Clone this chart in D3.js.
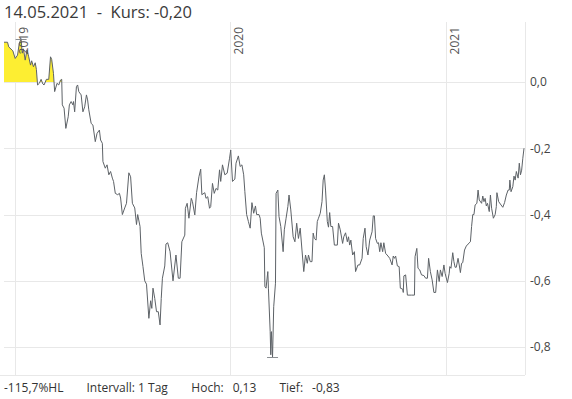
<!DOCTYPE html>
<html>
<head>
<meta charset="utf-8">
<script src="https://cdn.jsdelivr.net/npm/d3@7"></script>
<style>
  body { margin: 0; background: #fff; }
  text { font-family: "Open Sans", sans-serif; white-space: pre; }
</style>
</head>
<body>
<svg id="chart" width="572" height="399"></svg>
<script>
// daily closes
const dates = [
  "2018-12-13","2018-12-19","2018-12-21","2018-12-28","2019-01-01","2019-01-05","2019-01-08","2019-01-11","2019-01-13","2019-01-15",
  "2019-01-18","2019-01-21","2019-01-24","2019-01-27","2019-01-29","2019-02-01","2019-02-04","2019-02-06","2019-02-08","2019-02-11",
  "2019-02-14","2019-02-17","2019-02-19","2019-02-23","2019-02-27","2019-03-02","2019-03-04","2019-03-07","2019-03-09","2019-03-13",
  "2019-03-16","2019-03-19","2019-03-21","2019-03-22","2019-03-25","2019-03-28","2019-04-01","2019-04-03","2019-04-06","2019-04-09",
  "2019-04-10","2019-04-12","2019-04-15","2019-04-17","2019-04-19","2019-04-23","2019-04-26","2019-04-29","2019-05-02","2019-05-04",
  "2019-05-06","2019-05-10","2019-05-13","2019-05-17","2019-05-20","2019-05-24","2019-05-26","2019-05-29","2019-05-30","2019-06-03",
  "2019-06-06","2019-06-09","2019-06-12","2019-06-15","2019-06-17","2019-06-20","2019-06-24","2019-06-27","2019-06-29","2019-07-02",
  "2019-07-06","2019-07-09","2019-07-13","2019-07-16","2019-07-19","2019-07-23","2019-07-26","2019-07-28","2019-08-01","2019-08-03",
  "2019-08-06","2019-08-09","2019-08-12","2019-08-16","2019-08-19","2019-08-21","2019-08-23","2019-08-26","2019-08-29","2019-09-01",
  "2019-09-04","2019-09-06","2019-09-08","2019-09-12","2019-09-14","2019-09-17","2019-09-21","2019-09-26","2019-10-01","2019-10-05",
  "2019-10-08","2019-10-11","2019-10-16","2019-10-17","2019-10-20","2019-10-23","2019-10-27","2019-10-29","2019-11-02","2019-11-05",
  "2019-11-09","2019-11-12","2019-11-14","2019-11-19","2019-11-21","2019-11-24","2019-11-27","2019-11-29","2019-12-02","2019-12-05",
  "2019-12-08","2019-12-11","2019-12-14","2019-12-16","2019-12-19","2019-12-23","2019-12-27","2019-12-31","2020-01-02","2020-01-05",
  "2020-01-09","2020-01-11","2020-01-15","2020-01-18","2020-01-21","2020-01-24","2020-01-26","2020-01-29","2020-02-01","2020-02-04",
  "2020-02-07","2020-02-10","2020-02-13","2020-02-15","2020-02-19","2020-02-21","2020-02-23","2020-02-28","2020-02-29","2020-03-02",
  "2020-03-05","2020-03-06","2020-03-09","2020-03-10","2020-03-11","2020-03-13","2020-03-15","2020-03-18","2020-03-19","2020-03-22",
  "2020-03-24","2020-03-27","2020-03-31","2020-04-02","2020-04-05","2020-04-08","2020-04-10","2020-04-13","2020-04-17","2020-04-20",
  "2020-04-23","2020-04-26","2020-04-29","2020-05-02","2020-05-05","2020-05-08","2020-05-11","2020-05-13","2020-05-16","2020-05-19",
  "2020-05-21","2020-05-23","2020-05-26","2020-05-28","2020-05-30","2020-06-02","2020-06-05","2020-06-07","2020-06-09","2020-06-11",
  "2020-06-14","2020-06-16","2020-06-18","2020-06-20","2020-06-23","2020-06-26","2020-07-01","2020-07-03","2020-07-06","2020-07-10",
  "2020-07-12","2020-07-15","2020-07-18","2020-07-20","2020-07-22","2020-07-24","2020-07-27","2020-07-30","2020-08-01","2020-08-05",
  "2020-08-08","2020-08-12","2020-08-14","2020-08-17","2020-08-19","2020-08-22","2020-08-25","2020-08-29","2020-08-31","2020-09-02",
  "2020-09-04","2020-09-07","2020-09-09","2020-09-11","2020-09-13","2020-09-16","2020-09-18","2020-09-21","2020-09-25","2020-09-28",
  "2020-10-02","2020-10-04","2020-10-06","2020-10-08","2020-10-11","2020-10-14","2020-10-16","2020-10-20","2020-10-21","2020-10-22",
  "2020-10-25","2020-10-28","2020-11-04","2020-11-09","2020-11-10","2020-11-13","2020-11-15","2020-11-18","2020-11-21","2020-11-25",
  "2020-11-28","2020-12-01","2020-12-03","2020-12-06","2020-12-09","2020-12-12","2020-12-15","2020-12-18","2020-12-21","2020-12-23",
  "2020-12-26","2020-12-29","2020-12-31","2021-01-04","2021-01-07","2021-01-08","2021-01-10","2021-01-13","2021-01-15","2021-01-17",
  "2021-01-19","2021-01-22","2021-01-24","2021-01-26","2021-01-28","2021-01-30","2021-02-02","2021-02-05","2021-02-08","2021-02-12",
  "2021-02-14","2021-02-16","2021-02-18","2021-02-20","2021-02-23","2021-02-25","2021-02-27","2021-03-03","2021-03-05","2021-03-07",
  "2021-03-09","2021-03-11","2021-03-13","2021-03-16","2021-03-18","2021-03-20","2021-03-23","2021-03-26","2021-03-28","2021-03-29",
  "2021-04-01","2021-04-05","2021-04-08","2021-04-11","2021-04-14","2021-04-17","2021-04-19","2021-04-20","2021-04-22","2021-04-25",
  "2021-04-27","2021-04-29","2021-05-01","2021-05-04","2021-05-06","2021-05-08","2021-05-10","2021-05-12","2021-05-14"
];
const values = [
  0.12,0.12,0.106,0.094,0.071,0.081,0.117,0.13,0.087,0.10,
  0.066,0.097,0.076,0.051,0.064,0.046,0.058,0.038,-0.009,-0.004,
  0.008,-0.006,-0.009,0.008,0.008,0.076,0.068,0.026,-0.029,-0.004,
  -0.009,0.006,0.008,-0.069,-0.079,-0.14,-0.105,-0.069,-0.059,-0.069,
  -0.059,-0.09,-0.014,-0.009,-0.029,-0.039,-0.09,-0.075,-0.039,-0.054,
  -0.084,-0.125,-0.13,-0.18,-0.155,-0.145,-0.175,-0.185,-0.24,-0.26,
  -0.25,-0.28,-0.27,-0.29,-0.30,-0.336,-0.34,-0.336,-0.35,-0.40,
  -0.38,-0.366,-0.274,-0.286,-0.366,-0.38,-0.43,-0.40,-0.436,-0.517,
  -0.557,-0.60,-0.61,-0.713,-0.66,-0.683,-0.622,-0.653,-0.693,-0.693,
  -0.733,-0.653,-0.592,-0.555,-0.489,-0.485,-0.512,-0.60,-0.522,-0.592,
  -0.592,-0.482,-0.462,-0.381,-0.366,-0.411,-0.351,-0.361,-0.401,-0.334,
  -0.286,-0.263,-0.34,-0.334,-0.351,-0.346,-0.381,-0.376,-0.306,-0.336,
  -0.321,-0.326,-0.265,-0.30,-0.25,-0.28,-0.275,-0.23,-0.205,-0.30,
  -0.293,-0.245,-0.223,-0.255,-0.25,-0.28,-0.331,-0.40,-0.421,-0.441,
  -0.364,-0.396,-0.374,-0.40,-0.40,-0.411,-0.456,-0.50,-0.617,-0.622,
  -0.572,-0.622,-0.753,-0.823,-0.753,-0.83,-0.678,-0.607,-0.336,-0.326,
  -0.406,-0.436,-0.512,-0.446,-0.411,-0.376,-0.341,-0.386,-0.467,-0.482,
  -0.426,-0.472,-0.441,-0.507,-0.572,-0.522,-0.547,-0.522,-0.542,-0.542,
  -0.456,-0.472,-0.477,-0.421,-0.411,-0.396,-0.361,-0.296,-0.28,-0.326,
  -0.421,-0.438,-0.394,-0.436,-0.436,-0.492,-0.492,-0.426,-0.446,-0.487,
  -0.467,-0.455,-0.482,-0.467,-0.492,-0.477,-0.522,-0.512,-0.572,-0.552,
  -0.552,-0.532,-0.472,-0.441,-0.497,-0.522,-0.477,-0.452,-0.404,-0.404,
  -0.472,-0.487,-0.485,-0.512,-0.485,-0.512,-0.485,-0.517,-0.525,-0.532,
  -0.552,-0.525,-0.532,-0.525,-0.555,-0.557,-0.622,-0.625,-0.635,-0.585,
  -0.582,-0.643,-0.643,-0.643,-0.527,-0.502,-0.562,-0.567,-0.582,-0.584,
  -0.592,-0.592,-0.532,-0.572,-0.597,-0.635,-0.635,-0.567,-0.602,-0.567,
  -0.587,-0.552,-0.577,-0.605,-0.577,-0.557,-0.562,-0.515,-0.542,-0.559,
  -0.559,-0.532,-0.552,-0.575,-0.547,-0.545,-0.507,-0.495,-0.489,-0.482,
  -0.436,-0.40,-0.40,-0.371,-0.366,-0.326,-0.356,-0.366,-0.344,-0.361,
  -0.351,-0.374,-0.366,-0.391,-0.341,-0.381,-0.411,-0.40,-0.376,-0.334,
  -0.361,-0.371,-0.378,-0.364,-0.341,-0.326,-0.326,-0.296,-0.331,-0.316,
  -0.284,-0.296,-0.27,-0.29,-0.245,-0.28,-0.266,-0.23,-0.20
];
const yTicks = [0.0, -0.2, -0.4, -0.6, -0.8];
const yearTicks = ["2019-01-01", "2020-01-01", "2021-01-01"];
const hlText = "-115,7%HL";
const intervalText = "Intervall: 1 Tag";

const width = 572, height = 399;
const margin = { top: 22, right: 47, bottom: 24, left: 4 };
const svg = d3.select("#chart");

const parse = d3.timeParse("%Y-%m-%d");
const data = dates.map((d, i) => ({ date: parse(d), value: values[i] }));

// german number format, plain hyphen as minus
const de = d3.formatLocale({ decimal: ",", thousands: ".", grouping: [3], currency: ["", " €"], minus: "-" });
const fmt1 = de.format(".1f");
const fmt2 = de.format(".2f");

const x = d3.scaleTime()
  .domain(d3.extent(data, d => d.date))
  .range([margin.left, width - margin.right - 1]);
const y = d3.scaleLinear()
  .domain([-0.884, 0.181])
  .range([height - margin.bottom, margin.top]);

const x0 = margin.left, x1 = width - margin.right;
const yTop = margin.top, yBot = height - margin.bottom;

// grid
const grid = svg.append("g").attr("stroke", "#e8e8e8").attr("stroke-width", 1).attr("shape-rendering", "crispEdges");
grid.selectAll("line.h").data(yTicks).join("line")
  .attr("class", "h")
  .attr("x1", x0).attr("x2", x1)
  .attr("y1", d => Math.round(y(d)) + 0.5).attr("y2", d => Math.round(y(d)) + 0.5);
grid.selectAll("line.v").data(yearTicks).join("line")
  .attr("class", "v")
  .attr("x1", d => Math.round(x(parse(d))) + 0.5).attr("x2", d => Math.round(x(parse(d))) + 0.5)
  .attr("y1", yTop).attr("y2", yBot);
grid.append("line").attr("x1", x1 + 0.5).attr("x2", x1 + 0.5).attr("y1", yTop).attr("y2", yBot);
grid.append("line").attr("x1", 0).attr("x2", x1).attr("y1", yBot + 0.5).attr("y2", yBot + 0.5);

// yellow fill above zero
svg.append("clipPath").attr("id", "above")
  .append("rect").attr("x", x0).attr("y", yTop - 20).attr("width", x1 - x0).attr("height", y(0) - yTop + 20);
const area = d3.area().x(d => x(d.date)).y0(y(0)).y1(d => y(d.value));
svg.append("path").datum(data)
  .attr("clip-path", "url(#above)")
  .attr("fill", "#fdee32")
  .attr("d", area);

// price line
const line = d3.line().x(d => x(d.date)).y(d => y(d.value));
svg.append("path").datum(data)
  .attr("fill", "none")
  .attr("stroke", "#5d6267")
  .attr("stroke-width", 1)
  .attr("d", line);

// high / low markers
const hi = data.reduce((a, b) => (b.value > a.value ? b : a));
const lo = data.reduce((a, b) => (b.value < a.value ? b : a));
svg.selectAll("line.mark").data([hi, lo]).join("line")
  .attr("class", "mark")
  .attr("stroke", "#8a8e92")
  .attr("x1", d => x(d.date) - 5.5).attr("x2", d => x(d.date) + 5.5)
  .attr("y1", d => Math.round(y(d.value)) + 0.5).attr("y2", d => Math.round(y(d.value)) + 0.5);

// y labels on the right
svg.selectAll("text.ytick").data(yTicks).join("text")
  .attr("class", "ytick")
  .attr("x", x1 + 5)
  .attr("y", d => y(d))
  .attr("dy", "0.36em")
  .attr("font-size", 12)
  .attr("fill", "#444")
  .text(d => fmt1(d));

// year labels, rotated
svg.selectAll("text.year").data(yearTicks).join("text")
  .attr("class", "year")
  .attr("transform", d => `translate(${x(parse(d)) + 13},${yTop + 5}) rotate(-90)`)
  .attr("text-anchor", "end")
  .attr("font-size", 12)
  .attr("fill", "#555")
  .text(d => d.slice(0, 4));

// title
const last = data[data.length - 1];
svg.append("text")
  .attr("x", 4).attr("y", 18)
  .attr("font-size", 16.5)
  .attr("fill", "#3a3a3a")
  .text(d3.timeFormat("%d.%m.%Y")(last.date) + "  -  Kurs: " + fmt2(last.value));

// footer
const footer = svg.append("g").attr("font-size", 12).attr("fill", "#333");
let fx = 4;
const fy = 392;
[
  [hlText, ""],
  [intervalText, ""],
  ["Hoch:", fmt2(hi.value)],
  ["Tief:", fmt2(lo.value)]
].forEach(([label, val]) => {
  const t = footer.append("text").attr("x", fx).attr("y", fy);
  t.append("tspan").text(label);
  if (val) t.append("tspan").attr("dx", 9).text(val);
  fx += t.node().getBBox().width + 23;
});
</script>
</body>
</html>
